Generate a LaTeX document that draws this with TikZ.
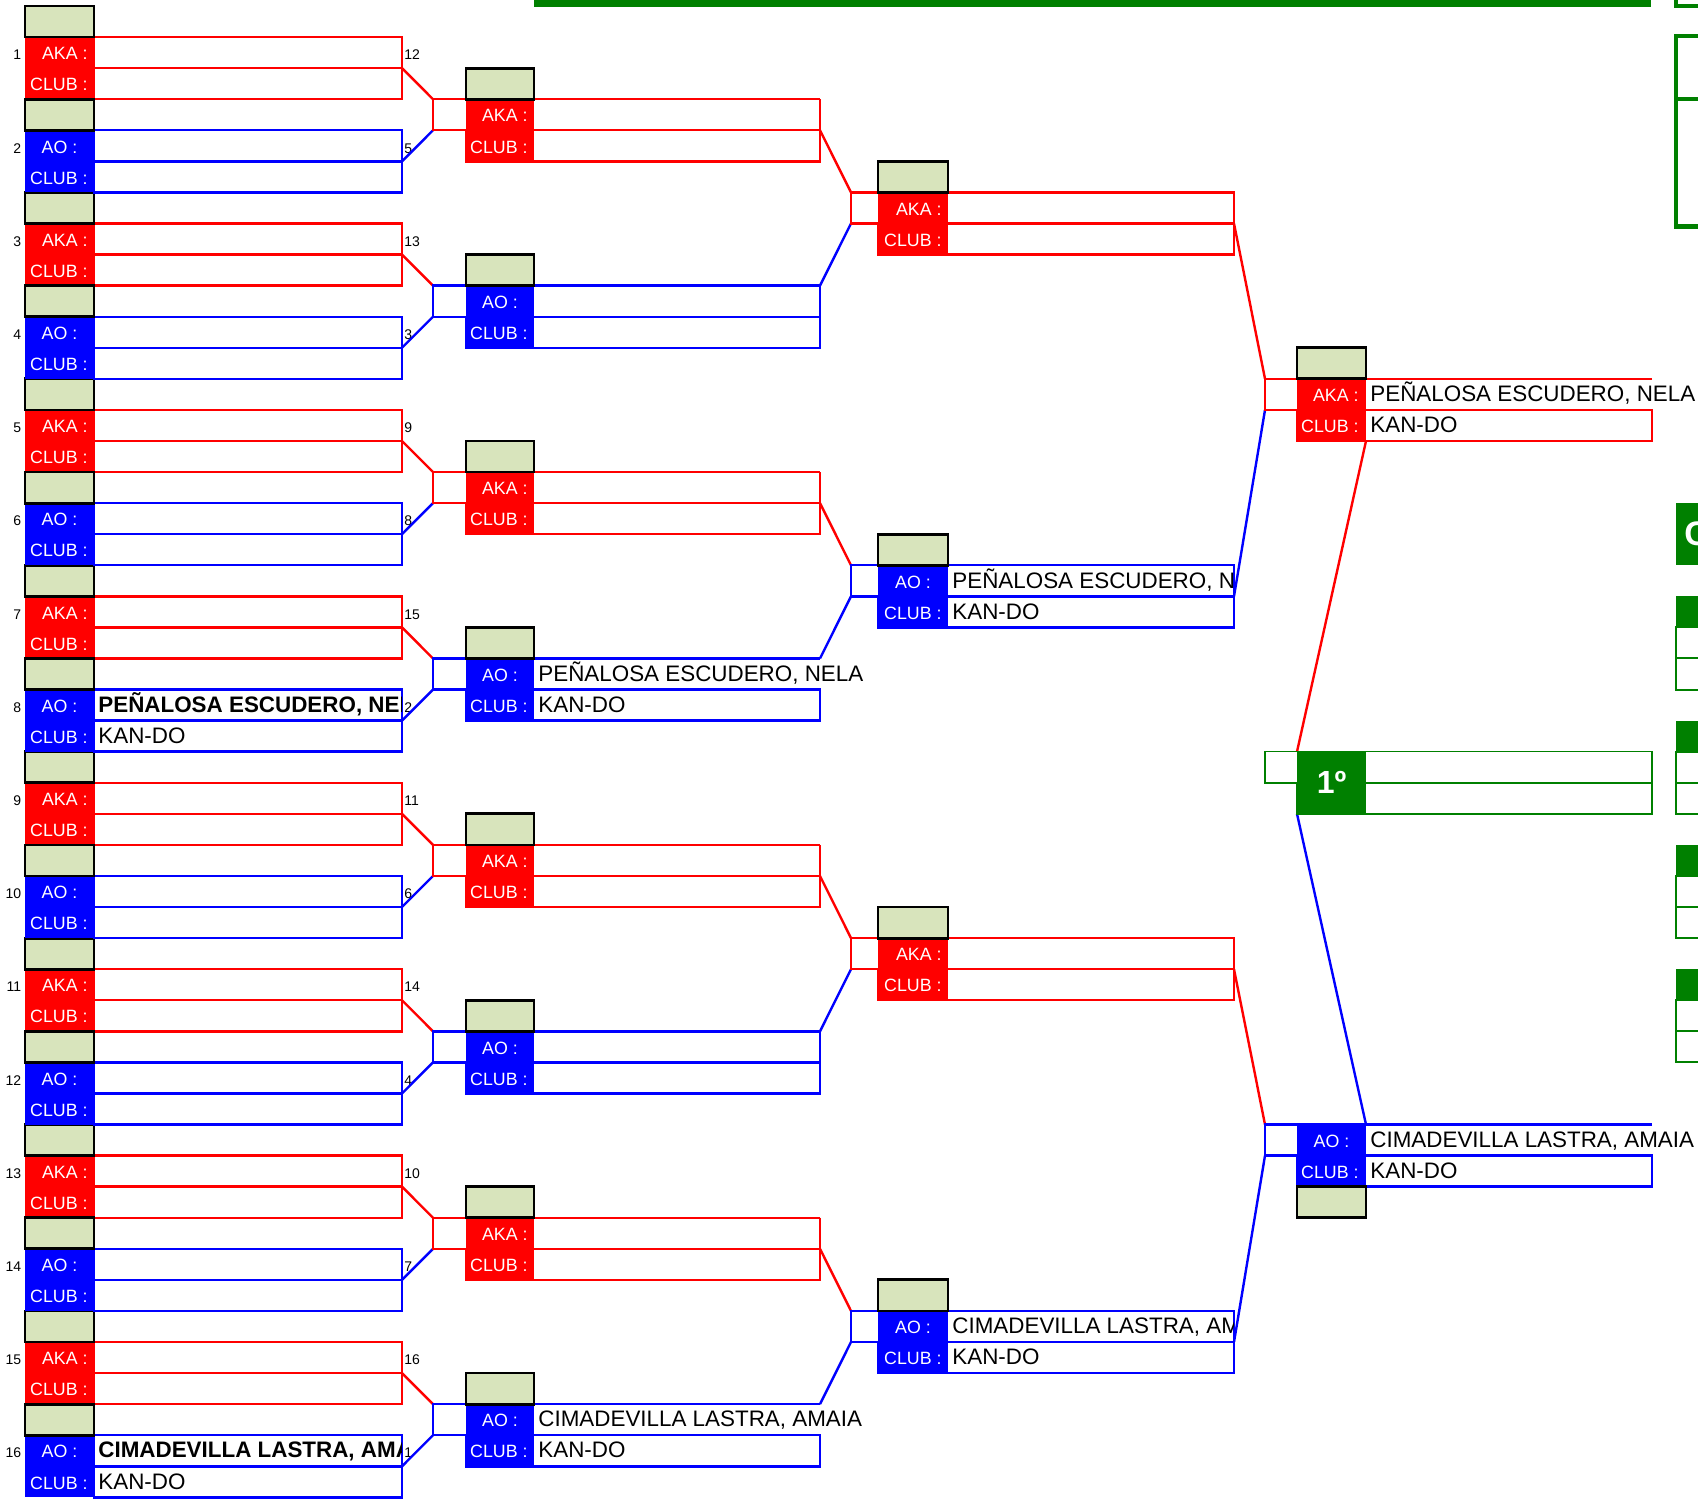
\documentclass[tikz,border=0pt]{standalone}
\usepackage{fontspec}
\setmainfont{Liberation Sans}
\begin{document}
\begin{tikzpicture}[x=0.5pt, y=-15.535pt,
    scorebox/.style={fill=scorebg, draw=black, line width=1.4pt},
    cell/.style={line width=1.2pt},
    lbl/.style={text=white, font=\fontsize{8.9}{10}\selectfont, inner xsep=0pt, inner ysep=0pt, text height=0.72em, text depth=0pt},
    who/.style={font=\fontsize{11.2}{13}\selectfont, anchor=west, inner xsep=2pt, inner ysep=0pt, text height=0.72em, text depth=0pt},
    seed/.style={font=\fontsize{7}{8}\selectfont, inner xsep=1pt, inner ysep=0pt, text height=0.72em, text depth=0pt}]
        % Colours of the sheet
        \definecolor{akared}{RGB}{255, 0, 0}     % AKA
        \definecolor{aoblue}{RGB}{0, 0, 255}     % AO
        \definecolor{scorebg}{RGB}{216, 228, 188} % score cells
        \definecolor{podium}{RGB}{0, 128, 0}     % medal table

        \useasboundingbox (0,-0.1931) rectangle (1698,48.085);

        % --- Round 1: sixteen entries (rows of 31px, three per entry) ---
        \foreach \i/\s in {0/12,2/13,4/9,6/15,8/11,10/14,12/10,14/16}{
            \pgfmathtruncatemacro\no{\i+1}
            \draw[cell, akared] (94,3*\i+1) rectangle (402,3*\i+3);
            \draw[cell, akared] (94,3*\i+2) -- (402,3*\i+2);
            \fill[akared] (25,3*\i+1) rectangle (94,3*\i+3);
            \draw[scorebox] (25,3*\i) rectangle (94,3*\i+1);
            \node[lbl, anchor=east] (aka\no) at (88,3*\i+1.5) {AKA :};
            \node[lbl, anchor=east] (club\no) at (88,3*\i+2.5) {CLUB :};
            \node[seed, anchor=east] (pos\no) at (23.5,3*\i+1.5) {\no};
            \node[seed, anchor=west] (seed\no) at (402,3*\i+1.5) {\s};
        }
        \foreach \i/\s in {1/5,3/3,5/8,7/2,9/6,11/4,13/7,15/1}{
            \pgfmathtruncatemacro\no{\i+1}
            \draw[cell, aoblue] (94,3*\i+1) rectangle (402,3*\i+3);
            \draw[cell, aoblue] (94,3*\i+2) -- (402,3*\i+2);
            \fill[aoblue] (25,3*\i+1) rectangle (94,3*\i+3);
            \draw[scorebox] (25,3*\i) rectangle (94,3*\i+1);
            \node[lbl] (ao\no) at (59.5,3*\i+1.5) {AO :};
            \node[lbl, anchor=east] (club\no) at (88,3*\i+2.5) {CLUB :};
            \node[seed, anchor=east] (pos\no) at (23.5,3*\i+1.5) {\no};
            \node[seed, anchor=west] (seed\no) at (402,3*\i+1.5) {\s};
        }

        % Names in round 1 (cut at the cell edge)
        \begin{scope}
            \clip (94,22) rectangle (401,23);
            \node[who, font=\fontsize{11.2}{13}\selectfont\bfseries] (nameA) at (94,22.5) {PEÑALOSA ESCUDERO, NELA};
        \end{scope}
        \node[who] (clubA) at (94,23.5) {KAN-DO};
        \begin{scope}
            \clip (94,46) rectangle (401,47);
            \node[who, font=\fontsize{11.2}{13}\selectfont\bfseries] (nameB) at (94,46.5) {CIMADEVILLA LASTRA, AMAIA};
        \end{scope}
        \node[who] (clubB) at (94,47.5) {KAN-DO};

        % --- Round 2 ---
        \foreach \p in {0,...,7}{
            \draw[cell, akared] (402,6*\p+2) -- (433,6*\p+3);
            \draw[cell, aoblue] (402,6*\p+5) -- (433,6*\p+4);
        }
        \foreach \p in {0,2,4,6}{
            \draw[cell, akared] (820,6*\p+3) -- (433,6*\p+3) -- (433,6*\p+4) -- (820,6*\p+4);
            \draw[cell, akared] (466,6*\p+4) rectangle (820,6*\p+5);
            \draw[cell, akared] (820,6*\p+3) -- (820,6*\p+4);
            \fill[akared] (466,6*\p+3) rectangle (534,6*\p+5);
            \draw[scorebox] (466,6*\p+2) rectangle (534,6*\p+3);
            \node[lbl, anchor=east] (akaR2\p) at (528,6*\p+3.5) {AKA :};
            \node[lbl, anchor=east] (clubR2\p) at (528,6*\p+4.5) {CLUB :};
        }
        \foreach \p in {1,3,5,7}{
            \draw[cell, aoblue] (820,6*\p+3) -- (433,6*\p+3) -- (433,6*\p+4) -- (820,6*\p+4);
            \draw[cell, aoblue] (466,6*\p+4) rectangle (820,6*\p+5);
            \fill[aoblue] (466,6*\p+3) rectangle (534,6*\p+5);
            \draw[scorebox] (466,6*\p+2) rectangle (534,6*\p+3);
            \node[lbl] (aoR2\p) at (500,6*\p+3.5) {AO :};
            \node[lbl, anchor=east] (clubR2\p) at (528,6*\p+4.5) {CLUB :};
        }
        \foreach \p in {1,5} \draw[cell, aoblue] (820,6*\p+3) -- (820,6*\p+4);
        \node[who] (nameR2a) at (534,21.5) {PEÑALOSA ESCUDERO, NELA};
        \node[who] (clubR2a) at (534,22.5) {KAN-DO};
        \node[who] (nameR2b) at (534,45.5) {CIMADEVILLA LASTRA, AMAIA};
        \node[who] (clubR2b) at (534,46.5) {KAN-DO};

        % --- Round 3 ---
        \foreach \k in {0,...,3}{
            \draw[cell, akared] (820,12*\k+4) -- (851,12*\k+6);
            \draw[cell, aoblue] (820,12*\k+9) -- (851,12*\k+7);
        }
        \foreach \k in {0,2}{
            \draw[cell, akared] (851,12*\k+6) rectangle (1234,12*\k+7);
            \draw[cell, akared] (878,12*\k+7) rectangle (1234,12*\k+8);
            \fill[akared] (878,12*\k+6) rectangle (948,12*\k+8);
            \draw[scorebox] (878,12*\k+5) rectangle (948,12*\k+6);
            \node[lbl, anchor=east] (akaR3\k) at (942,12*\k+6.5) {AKA :};
            \node[lbl, anchor=east] (clubR3\k) at (942,12*\k+7.5) {CLUB :};
        }
        \foreach \k in {1,3}{
            \draw[cell, aoblue] (851,12*\k+6) rectangle (1234,12*\k+7);
            \draw[cell, aoblue] (878,12*\k+7) rectangle (1234,12*\k+8);
            \fill[aoblue] (878,12*\k+6) rectangle (948,12*\k+8);
            \draw[scorebox] (878,12*\k+5) rectangle (948,12*\k+6);
            \node[lbl] (aoR3\k) at (913,12*\k+6.5) {AO :};
            \node[lbl, anchor=east] (clubR3\k) at (942,12*\k+7.5) {CLUB :};
        }
        \begin{scope}
            \clip (948,18) rectangle (1233,19);
            \node[who] (nameR3a) at (948,18.5) {PEÑALOSA ESCUDERO, NELA};
        \end{scope}
        \node[who] (clubR3a) at (948,19.5) {KAN-DO};
        \begin{scope}
            \clip (948,42) rectangle (1233,43);
            \node[who] (nameR3b) at (948,42.5) {CIMADEVILLA LASTRA, AMAIA};
        \end{scope}
        \node[who] (clubR3b) at (948,43.5) {KAN-DO};

        % --- Final ---
        \foreach \j in {0,1}{
            \draw[cell, akared] (1234,24*\j+7) -- (1265,24*\j+12);
            \draw[cell, aoblue] (1234,24*\j+19) -- (1265,24*\j+13);
        }
        % AKA finalist
        \draw[cell, akared] (1652,12) -- (1265,12) -- (1265,13) -- (1652,13);
        \draw[cell, akared] (1297,13) rectangle (1652,14);
        \fill[akared] (1297,12) rectangle (1366,14);
        \draw[scorebox] (1297,11) rectangle (1366,12);
        \node[lbl, anchor=east] (akaF) at (1359,12.5) {AKA :};
        \node[lbl, anchor=east] (clubF1) at (1359,13.5) {CLUB :};
        \node[who] (nameF1) at (1366,12.5) {PEÑALOSA ESCUDERO, NELA};
        \node[who] (teamF1) at (1366,13.5) {KAN-DO};
        % AO finalist
        \draw[cell, aoblue] (1652,36) -- (1265,36) -- (1265,37) -- (1652,37);
        \draw[cell, aoblue] (1297,37) rectangle (1652,38);
        \fill[aoblue] (1297,36) rectangle (1366,38);
        \draw[scorebox] (1297,38) rectangle (1366,39);
        \node[lbl] (aoF) at (1331.5,36.5) {AO :};
        \node[lbl, anchor=east] (clubF2) at (1359,37.5) {CLUB :};
        \node[who] (nameF2) at (1366,36.5) {CIMADEVILLA LASTRA, AMAIA};
        \node[who] (teamF2) at (1366,37.5) {KAN-DO};

        % Winner slot
        \draw[cell, akared] (1366,14) -- (1297,24);
        \draw[cell, aoblue] (1297,26) -- (1366,36);
        \draw[podium, line width=0.8pt] (1265,24) rectangle (1652,25);
        \draw[podium, line width=0.8pt] (1297,25) rectangle (1652,26);
        \fill[podium] (1297,24) rectangle (1366,26);
        \node[text=white, font=\fontsize{16}{18}\selectfont\bfseries] (gold) at (1331.5,25) {1º};

        % --- Medal table on the right (cut by the page) ---
        \fill[podium] (534,-0.3) rectangle (1651,0.032);
        \draw[podium, line width=2.2pt] (1676,-0.3) -- (1676,0) -- (1700,0);
        \draw[podium, line width=2.2pt] (1700,0.97) -- (1676,0.97) -- (1676,7.1) -- (1700,7.1);
        \draw[podium, line width=2.2pt] (1676,3) -- (1700,3);
        \fill[podium] (1676,16) rectangle (1700,18);
        \node[text=white, font=\fontsize{17}{19}\selectfont\bfseries, anchor=west, inner sep=0pt] (medals) at (1684,17) {C};
        \foreach \h in {19,23,27,31}{
            \fill[podium] (1676,\h) rectangle (1700,\h+1);
            \draw[podium, line width=1pt] (1676,\h+1) rectangle (1710,\h+3);
            \draw[podium, line width=1pt] (1676,\h+2) -- (1710,\h+2);
        }
\end{tikzpicture}
\end{document}
